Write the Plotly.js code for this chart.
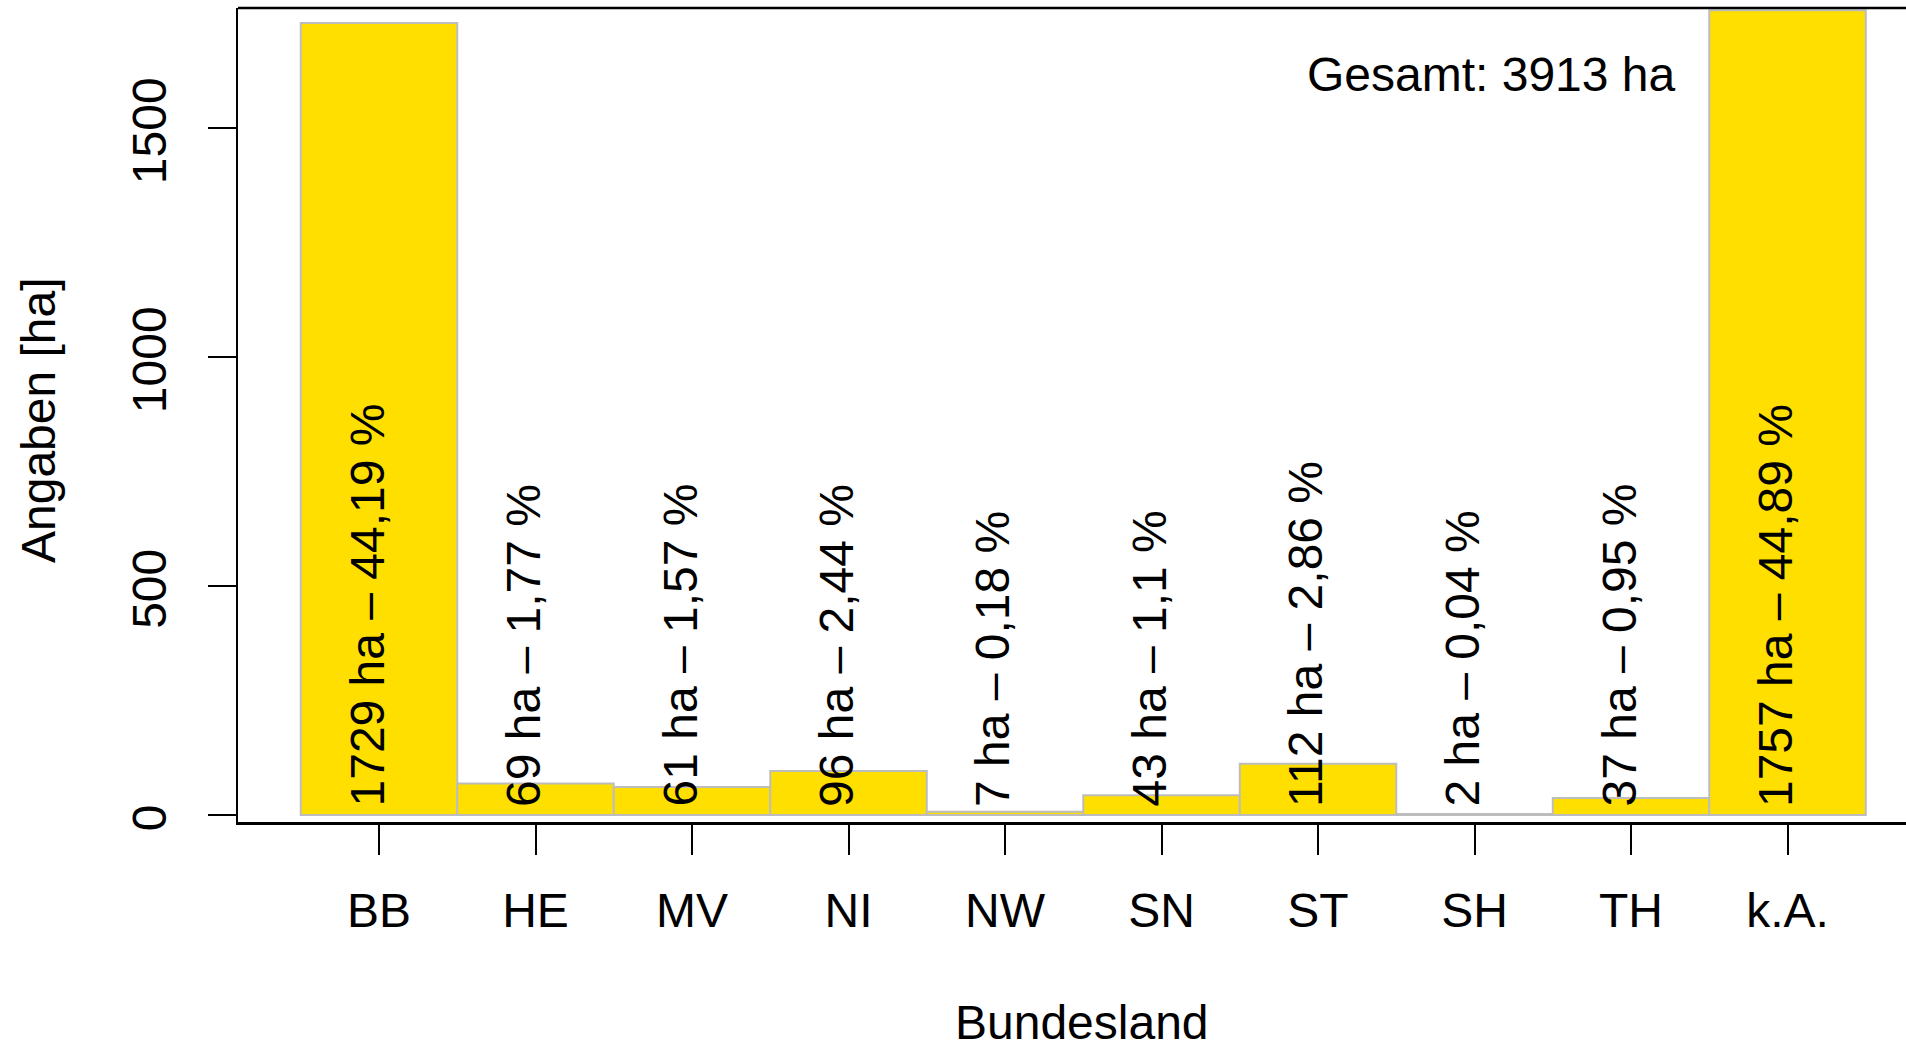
<!DOCTYPE html>
<html>
<head>
<meta charset="utf-8">
<script src="https://cdn.plot.ly/plotly-3.0.1.min.js"></script>
<style>
  html, body { margin: 0; padding: 0; background: #ffffff; }
  #chart { width: 1906px; height: 1048px; }
</style>
</head>
<body>
<div id="chart"></div>
<script>
const categories = ['BB', 'HE', 'MV', 'NI', 'NW', 'SN', 'ST', 'SH', 'TH', 'k.A.'];
const hectares = [1729, 69, 61, 96, 7, 43, 112, 2, 37, 1757];
const percents = ['44,19', '1,77', '1,57', '2,44', '0,18', '1,1', '2,86', '0,04', '0,95', '44,89'];
const totalHa = 3913;
const yTicks = [0, 500, 1000, 1500];

const FONT = '"Liberation Sans", Arial, Helvetica, sans-serif';
const FS = 48;

const W = 1906, H = 1048;
const M = { l: 238, r: 0, t: 8, b: 226 };
const PW = W - M.l - M.r, PH = H - M.t - M.b;
const px2paperX = p => (p - M.l) / PW;
const px2paperY = p => (H - M.b - p) / PH;

const labels = categories.map((c, i) => hectares[i] + ' ha \u2013 ' + percents[i] + ' %');

const trace = {
  type: 'bar',
  x: categories,
  y: hectares,
  width: 1,
  marker: { color: '#FFDF00', line: { color: '#BDBDBD', width: 2 } },
  hoverinfo: 'skip'
};

const annotations = categories.map((c, i) => ({
  x: c, y: 0, xref: 'x', yref: 'y',
  text: labels[i], showarrow: false, textangle: -90,
  xanchor: 'center', yanchor: 'bottom', xshift: -12, yshift: 6,
  font: { family: FONT, size: FS, color: '#000000' }
}));

annotations.push({
  x: px2paperX(1678), y: px2paperY(75), xref: 'paper', yref: 'paper',
  text: 'Gesamt: ' + totalHa + ' ha', showarrow: false,
  xanchor: 'right', yanchor: 'middle',
  font: { family: FONT, size: FS, color: '#000000' }
});
annotations.push({
  x: px2paperX(1082), y: px2paperY(1022), xref: 'paper', yref: 'paper',
  text: 'Bundesland', showarrow: false, xanchor: 'center', yanchor: 'middle',
  font: { family: FONT, size: FS, color: '#000000' }
});
annotations.push({
  x: px2paperX(38), y: px2paperY(420), xref: 'paper', yref: 'paper',
  text: 'Angaben [ha]', showarrow: false, textangle: -90,
  xanchor: 'center', yanchor: 'middle',
  font: { family: FONT, size: FS, color: '#000000' }
});

const layout = {
  width: W, height: H,
  margin: M,
  paper_bgcolor: '#ffffff', plot_bgcolor: '#ffffff',
  showlegend: false,
  bargap: 0,
  font: { family: FONT, size: FS, color: '#000000' },
  xaxis: {
    type: 'category',
    range: [-0.901, 9.757],
    showgrid: false, zeroline: false,
    showline: true, linecolor: '#000000', linewidth: 2.5,
    ticks: 'outside', ticklen: 30, tickwidth: 2, tickcolor: '#000000',
    ticklabelstandoff: 15,
    tickfont: { family: FONT, size: FS, color: '#000000' }
  },
  yaxis: {
    range: [-15.3, 1762],
    tickvals: yTicks,
    ticktext: yTicks.map(String),
    tickangle: -90,
    showgrid: false, zeroline: false,
    showline: true, linecolor: '#000000', linewidth: 2.5,
    ticks: 'outside', ticklen: 28, tickwidth: 2, tickcolor: '#000000',
    ticklabelstandoff: 22,
    ticklabelshift: 10,
    tickfont: { family: FONT, size: FS, color: '#000000' }
  },
  shapes: [{
    type: 'line', xref: 'paper', yref: 'paper',
    x0: 0, x1: 1, y0: 1, y1: 1,
    line: { color: '#000000', width: 2.5 }
  }],
  annotations: annotations
};

Plotly.newPlot('chart', [trace], layout, { displayModeBar: false, staticPlot: true });
</script>
</body>
</html>
